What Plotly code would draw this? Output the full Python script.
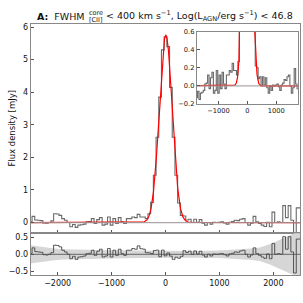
import numpy as np
import plotly.graph_objects as go

# ---------------- data ----------------
velocity = np.arange(-2500, 2501, 50)  # channel centres [km/s]

flux = [
    0.02, 0.19, 0.08, 0.07, 0.06, -0.01, -0.02, 0.00, 0.05, 0.27,
    0.26, 0.22, 0.12, 0.07, 0.00, -0.13, -0.06, -0.15, -0.08, -0.07,
    -0.05, 0.02, 0.03, 0.12, -0.03, 0.09, 0.15, -0.08, -0.05, 0.17,
    -0.08, 0.12, -0.03, 0.15, 0.02, -0.03, 0.12, 0.12, 0.17, 0.15,
    0.25, 0.17, 0.17, 0.12, 0.27, 0.62, 1.45, 2.62, 3.85, 5.30,
    5.70, 5.40, 4.15, 2.62, 1.45, 0.60, 0.22, 0.20, 0.08, 0.10,
    0.00, 0.10, 0.01, 0.09, -0.02, -0.08, 0.00, -0.05, 0.01, 0.00,
    0.01, 0.02, -0.01, -0.05, 0.01, 0.03, 0.07, 0.06, 0.10, 0.12,
    0.00, -0.08, -0.02, 0.19, 0.02, -0.03, -0.08, -0.12, 0.01, -0.13,
    0.32, 0.00, 0.02, 0.00, 0.52, 0.15, 0.52, 0.07, -0.55, 0.45,
    0.45,
]

# Gaussian fit parameters (core component)
fit_amp = 5.75
fit_cen = 5.0
fit_sigma = 120.0

# 1-sigma noise band for the residual panel
band_v = [-2500, -2300, -2100, -1900, -1500, -1000, -500, 0, 500, 1000,
          1300, 1600, 1750, 1850, 1950, 2050, 2150, 2250, 2350, 2450, 2500]
band_err = [0.27, 0.22, 0.18, 0.15, 0.13, 0.12, 0.11, 0.10, 0.10, 0.11,
            0.13, 0.17, 0.20, 0.25, 0.31, 0.38, 0.46, 0.52, 0.60, 0.68, 0.70]

x_ticks = [-2000, -1000, 0, 1000, 2000]
main_y_ticks = [0, 1, 2, 3, 4, 5, 6]
res_y_ticks = [-0.5, 0.0, 0.5]
inset_x_ticks = [-1000, 0, 1000]
inset_y_ticks = [-0.2, 0.0, 0.2, 0.4, 0.6]

# ---------------- derived ----------------
flux = np.array(flux)
model_v = np.linspace(-2500, 2500, 2001)
model_f = fit_amp * np.exp(-0.5 * ((model_v - fit_cen) / fit_sigma) ** 2)
resid = flux - fit_amp * np.exp(-0.5 * ((velocity - fit_cen) / fit_sigma) ** 2)
band_v = np.array(band_v)
band_err = np.array(band_err)

W = H = 303
FONT = "DejaVu Sans"
STEP = "#6a6a6a"
FRAME = "#888888"
ZERO = "rgba(160,150,150,0.85)"


def px(p):
    return p / W


def py(p):
    return 1 - p / H


fig = go.Figure()

# main panel
fig.add_trace(go.Scatter(x=velocity, y=flux, mode="lines", line_shape="hvh",
                         line=dict(color=STEP, width=1.1), xaxis="x", yaxis="y"))
fig.add_trace(go.Scatter(x=model_v, y=model_f, mode="lines",
                         line=dict(color="#ff0000", width=1.2), xaxis="x", yaxis="y"))
fig.add_trace(go.Scatter(x=[-2500, 2500], y=[0, 0], mode="lines",
                         line=dict(color=ZERO, width=1.2), xaxis="x", yaxis="y"))

# residual panel
fig.add_trace(go.Scatter(x=band_v, y=band_err, mode="lines", line=dict(width=0),
                         xaxis="x2", yaxis="y2"))
fig.add_trace(go.Scatter(x=band_v, y=-band_err, mode="lines", line=dict(width=0),
                         fill="tonexty", fillcolor="#d6d6d6", xaxis="x2", yaxis="y2"))
fig.add_trace(go.Scatter(x=[-2500, 2500], y=[0, 0], mode="lines",
                         line=dict(color="#666666", width=1), xaxis="x2", yaxis="y2"))
fig.add_trace(go.Scatter(x=velocity, y=resid, mode="lines", line_shape="hvh",
                         line=dict(color="#505050", width=1.0), xaxis="x2", yaxis="y2"))

# inset
fig.add_trace(go.Scatter(x=velocity, y=flux, mode="lines", line_shape="hvh",
                         line=dict(color=STEP, width=1.1), xaxis="x3", yaxis="y3"))
fig.add_trace(go.Scatter(x=model_v, y=model_f, mode="lines",
                         line=dict(color="#ff0000", width=1.2), xaxis="x3", yaxis="y3"))
fig.add_trace(go.Scatter(x=[-2500, 2500], y=[0, 0], mode="lines",
                         line=dict(color=ZERO, width=1.2), xaxis="x3", yaxis="y3"))

ax_common = dict(showline=True, mirror=True, linecolor=FRAME, linewidth=1,
                 ticks="inside", ticklen=3, tickcolor="#555555", tickwidth=1,
                 showgrid=False, zeroline=False,
                 tickfont=dict(family=FONT, size=8, color="#111111"))
inset_font = dict(family=FONT, size=6.7, color="#111111")

xd = [px(30.7), px(300.3)]
fig.update_layout(
    width=W, height=H,
    margin=dict(l=0, r=0, t=0, b=0),
    paper_bgcolor="white", plot_bgcolor="white",
    showlegend=False,
    xaxis=dict(domain=xd, range=[-2500, 2500], tickvals=x_ticks, showticklabels=False,
               anchor="y", **ax_common),
    yaxis=dict(domain=[py(235.5), py(21)], range=[-0.33, 6.08], tickvals=main_y_ticks,
               anchor="x", **ax_common),
    xaxis2=dict(domain=xd, range=[-2500, 2500], tickvals=x_ticks, anchor="y2",
                matches="x", **ax_common),
    yaxis2=dict(domain=[py(278.7), py(235.5)], range=[-0.62, 0.62], tickvals=res_y_ticks,
                tickformat=".1f", anchor="x2", **ax_common),
    xaxis3=dict(domain=[px(196.8), px(297.8)], range=[-1750, 1750], tickvals=inset_x_ticks,
                anchor="y3", **{**ax_common, "tickfont": inset_font}),
    yaxis3=dict(domain=[py(102.7), py(28.3)], range=[-0.2, 0.6], tickvals=inset_y_ticks,
                tickformat=".1f", anchor="x3", **{**ax_common, "tickfont": inset_font}),
)

title_font = dict(family=FONT, size=9.5, color="#111111")
small_font = dict(family=FONT, size=6.5, color="#111111")
fig.add_annotation(text="<b>A:</b>  FWHM", x=px(86.5), y=py(12.5), xref="paper", yref="paper",
                   xanchor="right", yanchor="middle", showarrow=False, font=title_font)
fig.add_annotation(text="core", x=px(87.3), y=py(9.5), xref="paper", yref="paper",
                   xanchor="left", yanchor="middle", showarrow=False, font=small_font)
fig.add_annotation(text="[CII]", x=px(87.3), y=py(16), xref="paper", yref="paper",
                   xanchor="left", yanchor="middle", showarrow=False, font=small_font)
fig.add_annotation(text="&lt; 400 km s<sup>−1</sup>, Log(L<sub>AGN</sub>/erg s<sup>−1</sup>) &lt; 46.8",
                   x=px(104), y=py(12.5), xref="paper", yref="paper",
                   xanchor="left", yanchor="middle", showarrow=False, font=title_font)
fig.add_annotation(text="Flux density [mJy]", textangle=-90, x=px(12), y=py(128),
                   xref="paper", yref="paper", xanchor="center", yanchor="middle",
                   showarrow=False, font=dict(family=FONT, size=8.5, color="#111111"))

fig.write_html("out.html", config={"displayModeBar": False},
               post_script="document.body.style.margin='0';document.body.style.overflow='hidden';")
